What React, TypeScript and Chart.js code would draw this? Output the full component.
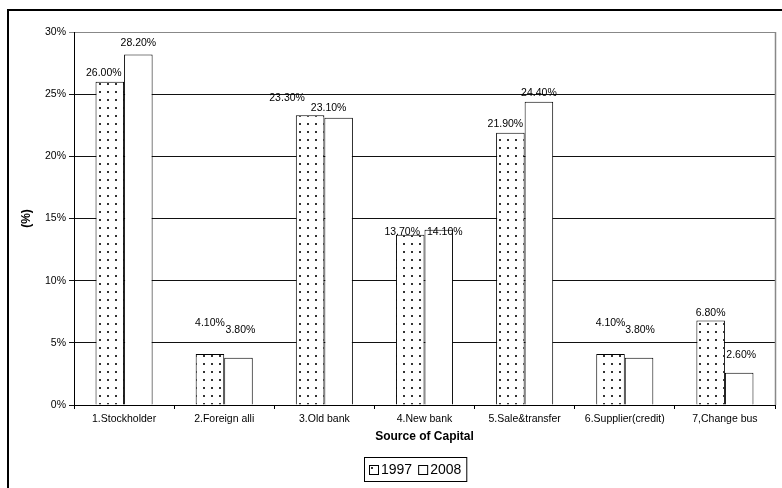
import React, { useEffect, useRef } from "react";
import { Chart, registerables } from "chart.js";

Chart.register(...registerables);

// Source of capital shares, in percent
const categories = [
  "1.Stockholder",
  "2.Foreign alli",
  "3.Old bank",
  "4.New bank",
  "5.Sale&transfer",
  "6.Supplier(credit)",
  "7,Change bus",
];
const seriesLabels = ["1997", "2008"];
const values1997 = [26.0, 4.1, 23.3, 13.7, 21.9, 4.1, 6.8];
const values2008 = [28.2, 3.8, 23.1, 14.1, 24.4, 3.8, 2.6];
const yMin = 0;
const yMax = 30;
const yStep = 5;
const xTitle = "Source of Capital";
const yTitle = "(%)";

// hand-placed value labels: horizontal shift and height above the bar top (px)
const labelPlace1997 = [
  [-6, 9],
  [0, 31],
  [-23, 17],
  [-8, 3],
  [-5, 9],
  [0, 31],
  [0, 7.5],
];
const labelPlace2008 = [
  [0, 11.5],
  [2, 28],
  [-10, 10],
  [6, -2],
  [0, 9],
  [1, 28],
  [2, 17.5],
];

const FONT = '"Liberation Sans", Arial, sans-serif';
const W = 782;
const H = 488;

function dotPattern(): CanvasPattern | string {
  const tile = document.createElement("canvas");
  tile.width = 8;
  tile.height = 8;
  const t = tile.getContext("2d");
  if (!t) return "#fff";
  t.fillStyle = "#fff";
  t.fillRect(0, 0, 8, 8);
  t.fillStyle = "#333";
  t.fillRect(3, 3, 2, 2);
  const c = document.createElement("canvas").getContext("2d");
  return (c && c.createPattern(tile, "repeat")) || "#fff";
}

const decorPlugin = {
  id: "decor",
  afterDatasetsDraw(chart: any) {
    const ctx = chart.ctx as CanvasRenderingContext2D;
    const places = [labelPlace1997, labelPlace2008];
    ctx.save();
    ctx.font = `10.5px ${FONT}`;
    ctx.fillStyle = "#000";
    ctx.textAlign = "center";
    ctx.textBaseline = "middle";
    chart.data.datasets.forEach((ds: any, di: number) => {
      const meta = chart.getDatasetMeta(di);
      meta.data.forEach((bar: any, i: number) => {
        const v = ds.data[i] as number;
        const [dx, rise] = places[di][i];
        ctx.fillText(v.toFixed(2) + "%", bar.x + dx, bar.y - rise);
      });
    });
    ctx.restore();
  },
  afterDraw(chart: any) {
    const ctx = chart.ctx as CanvasRenderingContext2D;
    const area = chart.chartArea;
    ctx.save();

    // outer frame
    ctx.strokeStyle = "#000";
    ctx.lineWidth = 2;
    ctx.beginPath();
    ctx.moveTo(8, H + 2);
    ctx.lineTo(8, 10);
    ctx.lineTo(W + 2, 10);
    ctx.stroke();

    // right edge of plot area
    ctx.strokeStyle = "#888";
    ctx.lineWidth = 1.5;
    ctx.beginPath();
    ctx.moveTo(area.right + 0.5, area.top);
    ctx.lineTo(area.right + 0.5, area.bottom);
    ctx.stroke();

    // axis titles
    ctx.fillStyle = "#000";
    ctx.font = `bold 12px ${FONT}`;
    ctx.textAlign = "center";
    ctx.textBaseline = "middle";
    ctx.fillText(xTitle, (area.left + area.right) / 2, 437);
    ctx.save();
    ctx.translate(27, (area.top + area.bottom) / 2);
    ctx.rotate(-Math.PI / 2);
    ctx.fillText(yTitle, 0, 0);
    ctx.restore();

    // legend box
    ctx.font = `14px ${FONT}`;
    ctx.textAlign = "left";
    const box = 9;
    const items = chart.data.datasets.map((d: any) => ({
      label: d.label as string,
      fill: d.backgroundColor,
      w: ctx.measureText(d.label).width,
    }));
    const inner = items.reduce((s: number, it: any) => s + box + 3 + it.w, 0) + (items.length - 1) * 6;
    const lw = inner + 10;
    const lh = 24;
    const lx = Math.round((area.left + area.right) / 2 - lw / 2 - 9);
    const ly = 457;
    ctx.strokeStyle = "#000";
    ctx.lineWidth = 1;
    ctx.strokeRect(lx + 0.5, ly + 0.5, lw, lh);
    let x = lx + 5;
    const cy = ly + lh / 2 + 0.5;
    items.forEach((it: any) => {
      ctx.fillStyle = it.fill;
      ctx.fillRect(x + 0.5, Math.round(cy - box / 2) + 0.5, box, box);
      ctx.strokeRect(x + 0.5, Math.round(cy - box / 2) + 0.5, box, box);
      ctx.fillStyle = "#000";
      ctx.fillText(it.label, x + box + 3, cy + 1);
      x += box + 3 + it.w + 6;
    });

    ctx.restore();
  },
};

export default function App() {
  const ref = useRef<HTMLCanvasElement>(null);

  useEffect(() => {
    if (!ref.current) return;
    const pattern = dotPattern();
    const chart = new Chart(ref.current, {
      type: "bar",
      data: {
        labels: categories,
        datasets: [
          {
            label: seriesLabels[0],
            data: values1997,
            backgroundColor: pattern as any,
            borderColor: "#000",
            borderWidth: 1,
          },
          {
            label: seriesLabels[1],
            data: values2008,
            backgroundColor: "#fff",
            borderColor: "#000",
            borderWidth: 1,
          },
        ],
      },
      options: {
        responsive: false,
        animation: false,
        devicePixelRatio: 1,
        layout: { padding: { left: 0, top: 32, right: 7, bottom: 0 } },
        datasets: { bar: { categoryPercentage: 0.57, barPercentage: 1 } },
        plugins: {
          legend: { display: false },
          tooltip: { enabled: false },
          title: { display: false },
        },
        scales: {
          x: {
            afterFit: (s: any) => {
              s.height = 83;
            },
            grid: {
              offset: true,
              drawOnChartArea: false,
              drawTicks: true,
              tickLength: 4,
              color: "#000",
            },
            border: { color: "#000", width: 1 },
            ticks: {
              color: "#000",
              font: { family: FONT, size: 10.5 },
              padding: 4,
              maxRotation: 0,
              autoSkip: false,
            },
          },
          y: {
            min: yMin,
            max: yMax,
            afterFit: (s: any) => {
              s.width = 74;
            },
            grid: {
              color: (c: any) => (c.tick && c.tick.value === yMax ? "#888" : "#111"),
              tickLength: 5,
            },
            border: { color: "#000", width: 1 },
            ticks: {
              stepSize: yStep,
              color: "#000",
              font: { family: FONT, size: 10.5 },
              padding: 3,
              callback: (v: any) => `${v}%`,
            },
          },
        },
      },
      plugins: [decorPlugin],
    });
    return () => chart.destroy();
  }, []);

  return (
    <div style={{ position: "fixed", left: 0, top: 0, width: W, height: H, background: "#fff" }}>
      <canvas ref={ref} width={W} height={H} style={{ display: "block" }} />
    </div>
  );
}
